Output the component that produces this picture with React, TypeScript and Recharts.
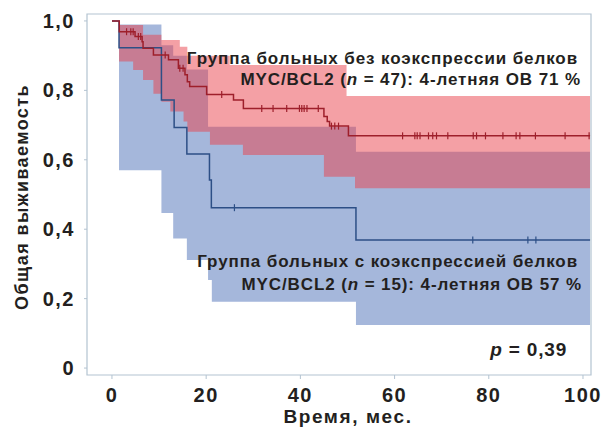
import {
  ComposedChart,
  Area,
  Line,
  Scatter,
  XAxis,
  YAxis,
  ReferenceArea,
} from "recharts";

// months on x, overall survival on y
const xTicks = [0, 20, 40, 60, 80, 100];
const yTicks = [0, 0.2, 0.4, 0.6, 0.8, 1.0];

// group without co-expression (n = 47)
const redTimes = [0, 1.55, 4.9, 6.4, 6.6, 8.8, 12, 14.1, 15.5, 16, 16.5, 20.1, 25.8, 27.9, 45, 45.7, 46.2, 50.2, 101.5];
const redSurv = [1.0, 0.969, 0.955, 0.94, 0.921, 0.902, 0.888, 0.864, 0.845, 0.825, 0.811, 0.788, 0.772, 0.748, 0.725, 0.71, 0.697, 0.669, 0.669];
const redCiTimes = [0, 1.5, 4.5, 6.6, 8.8, 10.5, 12.4, 14.4, 15.2, 16, 20.8, 25, 27.8, 45, 49.8, 51.6, 101.5];
const redUpper = [1.0, 0.988, 0.988, 0.96, 0.96, 0.945, 0.945, 0.926, 0.926, 0.9, 0.9, 0.873, 0.873, 0.873, 0.784, 0.784, 0.784];
const redLower = [1.0, 0.883, 0.859, 0.83, 0.79, 0.767, 0.739, 0.739, 0.71, 0.681, 0.643, 0.643, 0.614, 0.551, 0.551, 0.518, 0.518];
const redCensorT = [3.1, 4.0, 4.5, 5.6, 6.1, 11.3, 14.4, 15.1, 23.3, 31.8, 34.2, 37.1, 39.8, 40.3, 40.8, 41.4, 43.8, 46.6, 47.3, 48.1, 61.7, 64.3, 64.8, 65.4, 67.2, 68.1, 68.9, 71.3, 76.7, 77.4, 79.3, 83, 85.8, 86.6, 89.9, 96.2, 101.3];
const redCensorS = [0.969, 0.969, 0.969, 0.955, 0.955, 0.902, 0.864, 0.864, 0.788, 0.748, 0.748, 0.748, 0.748, 0.748, 0.748, 0.748, 0.748, 0.697, 0.697, 0.697, 0.669, 0.669, 0.669, 0.669, 0.669, 0.669, 0.669, 0.669, 0.669, 0.669, 0.669, 0.669, 0.669, 0.669, 0.669, 0.669, 0.669];

// group with co-expression (n = 15)
const blueTimes = [0, 1.5, 10.5, 13.2, 15.9, 20.7, 21.1, 51.8, 101.5];
const blueSurv = [1.0, 0.923, 0.772, 0.693, 0.617, 0.542, 0.462, 0.369, 0.369];
const blueCiTimes = [0, 1.5, 10.5, 13.0, 15.9, 20.4, 21.2, 51.8, 101.5];
const blueUpper = [1.0, 0.99, 0.93, 0.9, 0.86, 0.695, 0.695, 0.623, 0.623];
const blueLower = [1.0, 0.57, 0.447, 0.373, 0.311, 0.254, 0.191, 0.124, 0.124];
const blueCensorT = [26, 76.6, 88.3, 90];
const blueCensorS = [0.462, 0.369, 0.369, 0.369];

const redCurve = redTimes.map((t, i) => ({ t, s: redSurv[i] }));
const redBand = redCiTimes.map((t, i) => ({ t, range: [redLower[i], redUpper[i]] }));
const redCensor = redCensorT.map((t, i) => ({ t, s: redCensorS[i] }));
const blueCurve = blueTimes.map((t, i) => ({ t, s: blueSurv[i] }));
const blueBand = blueCiTimes.map((t, i) => ({ t, range: [blueLower[i], blueUpper[i]] }));
const blueCensor = blueCensorT.map((t, i) => ({ t, s: blueCensorS[i] }));

const FONT = "'Liberation Sans', Arial, sans-serif";
const FRAME = "#b3c3d1";
const INK = "#231f20";
const RED_LINE = "#9e1f2b";
const BLUE_LINE = "#2d4f86";

const censorMark = (color: string) => (props: any) => (
  <line x1={props.cx} x2={props.cx} y1={props.cy - 3.5} y2={props.cy + 3.5} stroke={color} strokeWidth={1.2} />
);

// text drawn over the plot (recharts puts Customized under the series)
function Annotations() {
  const txt = { fontFamily: FONT, fontWeight: 700, fill: INK, textAnchor: "end" as const };
  return (
    <svg
      width={601}
      height={437}
      style={{ position: "absolute", left: 0, top: 0, pointerEvents: "none" }}
    >
      <text x={578} y={64} fontSize={17} letterSpacing={0.9} {...txt}>
        Группа больных без коэкспрессии белков
      </text>
      <text x={581} y={85} fontSize={17} letterSpacing={0.9} {...txt}>
        MYC/BCL2 (<tspan fontStyle="italic">n</tspan> = 47): 4-летняя ОВ 71 %
      </text>
      <text x={578} y={267} fontSize={17} letterSpacing={0.9} {...txt}>
        Группа больных с коэкспрессией белков
      </text>
      <text x={582} y={290} fontSize={17} letterSpacing={0.9} {...txt}>
        MYC/BCL2 (<tspan fontStyle="italic">n</tspan> = 15): 4-летняя ОВ 57 %
      </text>
      <text x={567} y={356} fontSize={19} letterSpacing={0.8} {...txt}>
        <tspan fontStyle="italic">p</tspan> = 0,39
      </text>
      <text x={348} y={423} fontSize={19} letterSpacing={1.6} {...txt} textAnchor="middle">
        Время, мес.
      </text>
      <text
        x={0}
        y={0}
        fontSize={18}
        letterSpacing={1.4}
        {...txt}
        textAnchor="middle"
        transform="translate(28, 197) rotate(-90)"
      >
        Общая выживаемость
      </text>
    </svg>
  );
}

export default function App() {
  const tickStyle = { fontSize: 20, fontWeight: 700, fill: INK, fontFamily: FONT, letterSpacing: 1.5 };
  return (
    <div style={{ position: "absolute", left: 0, top: 0, width: 601, height: 437, background: "#fff" }}>
      <ComposedChart width={601} height={437} margin={{ top: 14, right: 10, bottom: 0, left: 0 }}>
        <XAxis
          type="number"
          dataKey="t"
          domain={[-5.3, 101.7]}
          ticks={xTicks}
          allowDataOverflow
          axisLine={false}
          tickLine={{ stroke: FRAME }}
          tickSize={4}
          tickMargin={9}
          height={62}
          tick={tickStyle}
        />
        <YAxis
          type="number"
          domain={[-0.02, 1.02]}
          ticks={yTicks}
          allowDataOverflow
          axisLine={false}
          tickLine={{ stroke: FRAME }}
          tickSize={3}
          tickMargin={9}
          width={87}
          tick={tickStyle}
          tickFormatter={(v: number) => (v === 0 ? "0" : v.toFixed(1).replace(".", ","))}
        />
        <Area
          data={blueBand}
          dataKey="range"
          type="stepAfter"
          fill="#a5b7db"
          fillOpacity={1}
          stroke="none"
          isAnimationActive={false}
        />
        <Area
          data={redBand}
          dataKey="range"
          type="stepAfter"
          fill="#e9414b"
          fillOpacity={0.5}
          stroke="none"
          isAnimationActive={false}
        />
        <Line
          data={blueCurve}
          dataKey="s"
          type="stepAfter"
          stroke={BLUE_LINE}
          strokeWidth={1.5}
          dot={false}
          isAnimationActive={false}
        />
        <Line
          data={redCurve}
          dataKey="s"
          type="stepAfter"
          stroke={RED_LINE}
          strokeWidth={1.5}
          dot={false}
          isAnimationActive={false}
        />
        <Scatter data={blueCensor} dataKey="s" shape={censorMark(BLUE_LINE)} isAnimationActive={false} />
        <Scatter data={redCensor} dataKey="s" shape={censorMark(RED_LINE)} isAnimationActive={false} />
        <ReferenceArea x1={-5.3} x2={101.7} y1={-0.02} y2={1.02} fill="none" stroke={FRAME} strokeWidth={1.2} />
      </ComposedChart>
      <Annotations />
    </div>
  );
}
